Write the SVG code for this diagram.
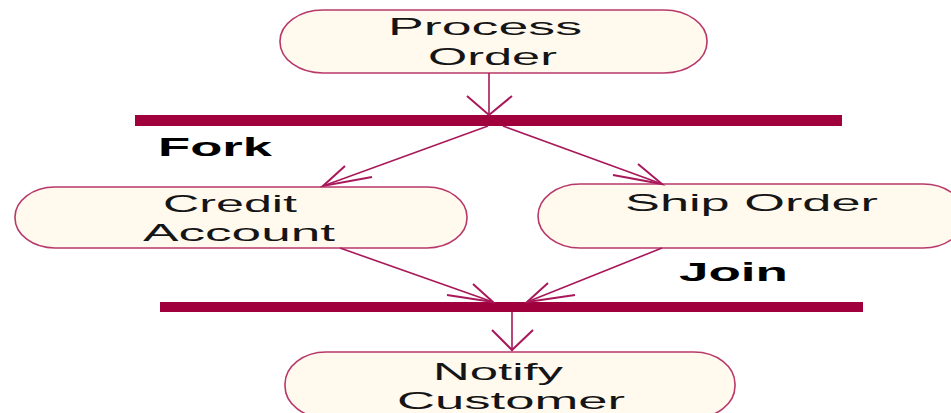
<svg xmlns="http://www.w3.org/2000/svg" width="951" height="413" viewBox="0 0 951 413">
<style>
.node{fill:#FFF9EE;stroke:#B8386A;stroke-width:1.6}
.lbl{font-family:"Liberation Sans",Arial,sans-serif;font-size:24px;fill:#151515}
.bold{font-family:"Liberation Sans",Arial,sans-serif;font-size:25px;font-weight:bold;fill:#000}
.bar{fill:#A0003C}
.edge{fill:none;stroke:#A8185A;stroke-width:1.6}
.head{fill:none;stroke:#A8185A;stroke-width:2}
</style>
<rect width="951" height="413" fill="#FFFFFF"/>
<g id="process-order">
<rect class="node" x="280" y="10" width="427" height="63" rx="43" ry="31"/>
<text class="lbl" x="388" y="35" textLength="194" lengthAdjust="spacingAndGlyphs">Process</text>
<text class="lbl" x="428" y="65" textLength="129" lengthAdjust="spacingAndGlyphs">Order</text>
</g>
<g id="fork">
<rect class="bar" x="135" y="115" width="707" height="11"/>
<text class="bold" x="158" y="156" textLength="114" lengthAdjust="spacingAndGlyphs">Fork</text>
</g>
<g id="credit-account">
<rect class="node" x="15" y="187" width="452" height="61" rx="40" ry="30"/>
<text class="lbl" x="163" y="212" textLength="134" lengthAdjust="spacingAndGlyphs">Credit</text>
<text class="lbl" x="143" y="241" textLength="192" lengthAdjust="spacingAndGlyphs">Account</text>
</g>
<g id="ship-order">
<rect class="node" x="538" y="184" width="427" height="64" rx="42" ry="32"/>
<text class="lbl" x="625" y="211" textLength="253" lengthAdjust="spacingAndGlyphs">Ship Order</text>
</g>
<g id="join">
<rect class="bar" x="160" y="302" width="703" height="10"/>
<text class="bold" x="679" y="281" textLength="109" lengthAdjust="spacingAndGlyphs">Join</text>
</g>
<g id="notify-customer">
<rect class="node" x="285" y="352" width="450" height="66" rx="41" ry="32"/>
<text class="lbl" x="433" y="380" textLength="130" lengthAdjust="spacingAndGlyphs">Notify</text>
<text class="lbl" x="397" y="409" textLength="228" lengthAdjust="spacingAndGlyphs">Customer</text>
</g>
<g id="connectors">
<line class="edge" x1="489" y1="73" x2="489" y2="115"/>
<polyline class="head" points="467,96 489,115 512,96"/>
<line class="edge" x1="488" y1="126" x2="323" y2="186"/>
<polyline class="head" points="345,166 323,186 372,177"/>
<line class="edge" x1="503" y1="126" x2="662" y2="184"/>
<polyline class="head" points="638,164 662,184 613,175"/>
<line class="edge" x1="340" y1="248" x2="493" y2="302"/>
<polyline class="head" points="473,284 493,302 447,295"/>
<line class="edge" x1="662" y1="248" x2="527" y2="302"/>
<polyline class="head" points="548,283 527,302 575,295"/>
<line class="edge" x1="512" y1="312" x2="512" y2="351"/>
<polyline class="head" points="492,330 512,350 533,330"/>
</g>
</svg>
